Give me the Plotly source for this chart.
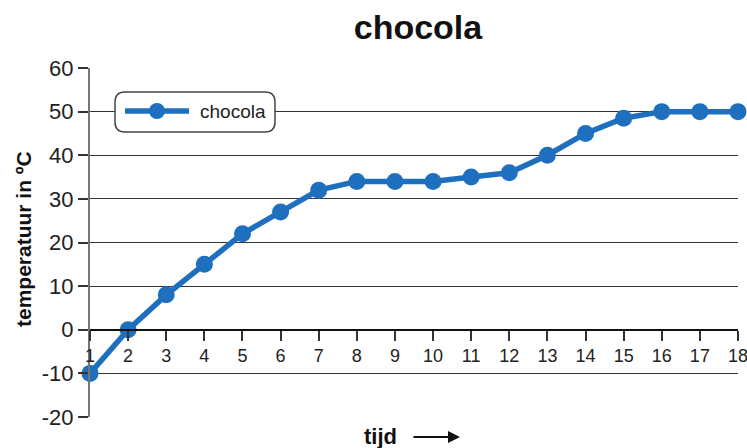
import plotly.graph_objects as go

tijd = list(range(1, 19))
temperatuur = [-10, 0, 8, 15, 22, 27, 32, 34, 34, 34, 35, 36, 40, 45, 48.5, 50, 50, 50]
y_ticks = [-20, -10, 0, 10, 20, 30, 40, 50, 60]

BLUE = "#1f6fbf"
FONT = "Liberation Sans, Arial, sans-serif"

W, H = 747, 448
L, R, T, B = 90, 9, 68, 31
PW, PH = W - L - R, H - T - B


def px(x):
    return (x - L) / PW


def py(y):
    return (H - B - y) / PH


fig = go.Figure()
fig.add_trace(go.Scatter(
    x=tijd, y=temperatuur, mode="lines+markers", name="chocola",
    line=dict(color=BLUE, width=5.5),
    marker=dict(color=BLUE, size=17),
    cliponaxis=False, showlegend=False,
))

# rounded legend box
x0, x1, y0, y1, r = 115, 275, 92, 132, 10
path = (
    f"M{px(x0 + r)},{py(y0)} L{px(x1 - r)},{py(y0)} "
    f"Q{px(x1)},{py(y0)} {px(x1)},{py(y0 + r)} "
    f"L{px(x1)},{py(y1 - r)} Q{px(x1)},{py(y1)} {px(x1 - r)},{py(y1)} "
    f"L{px(x0 + r)},{py(y1)} Q{px(x0)},{py(y1)} {px(x0)},{py(y1 - r)} "
    f"L{px(x0)},{py(y0 + r)} Q{px(x0)},{py(y0)} {px(x0 + r)},{py(y0)} Z"
)
shapes = [
    dict(type="path", path=path, xref="paper", yref="paper",
         fillcolor="white", line=dict(color="#444", width=1.5), layer="above"),
    dict(type="line", xref="paper", yref="paper", x0=px(125), x1=px(189),
         y0=py(111), y1=py(111), line=dict(color=BLUE, width=5.5), layer="above"),
    dict(type="circle", xref="paper", yref="paper", x0=px(149), x1=px(165),
         y0=py(103), y1=py(119), fillcolor=BLUE, line=dict(width=0), layer="above"),
]

annotations = [
    dict(text="chocola", xref="paper", yref="paper", x=px(198), y=py(111),
         xanchor="left", yanchor="middle", showarrow=False,
         font=dict(family=FONT, size=19, color="#222")),
    dict(text="temperatuur in ºC", xref="paper", yref="paper", x=px(23), y=py(239),
         xanchor="center", yanchor="middle", textangle=-90, showarrow=False,
         font=dict(family=FONT, size=21, color="#111", weight="bold")),
    dict(text="tijd", xref="paper", yref="paper", x=px(380), y=py(436),
         xanchor="center", yanchor="middle", showarrow=False,
         font=dict(family=FONT, size=22, color="#111", weight="bold")),
    dict(text="", xref="paper", yref="paper", x=px(460), y=py(437),
         ax=-48, ay=0, axref="pixel", ayref="pixel",
         showarrow=True, arrowhead=2, arrowsize=1.2, arrowwidth=2, arrowcolor="#111"),
]

fig.update_layout(
    width=W, height=H,
    margin=dict(l=L, r=R, t=T, b=B, autoexpand=False),
    paper_bgcolor="white", plot_bgcolor="white",
    title=dict(text="chocola", x=418 / W, xref="container", xanchor="center",
               y=1 - 27 / H, yref="container", yanchor="middle",
               font=dict(family=FONT, size=34, color="#111", weight="bold")),
    xaxis=dict(range=[1, 18], tickmode="array", tickvals=tijd,
               ticktext=[str(t) for t in tijd],
               anchor="free", position=0.25, showgrid=False, zeroline=False,
               showline=True, linecolor="#111", linewidth=2,
               ticks="outside", ticklen=10, tickwidth=1.5, tickcolor="#333",
               ticklabeloverflow="allow", automargin=False,
               tickfont=dict(family=FONT, size=18, color="#222")),
    yaxis=dict(range=[-20, 60], tickmode="array", tickvals=y_ticks,
               ticktext=[str(v) for v in y_ticks],
               showgrid=True, gridcolor="#333", gridwidth=1, zeroline=False,
               showline=True, linecolor="#777", linewidth=2,
               ticks="outside", ticklen=10, tickwidth=1.5, tickcolor="#333",
               automargin=False,
               tickfont=dict(family=FONT, size=22, color="#222")),
    shapes=shapes,
    annotations=annotations,
)

fig.write_html("out.html", config={"displayModeBar": False},
               post_script="document.body.style.margin='0';document.body.style.overflow='hidden';")
